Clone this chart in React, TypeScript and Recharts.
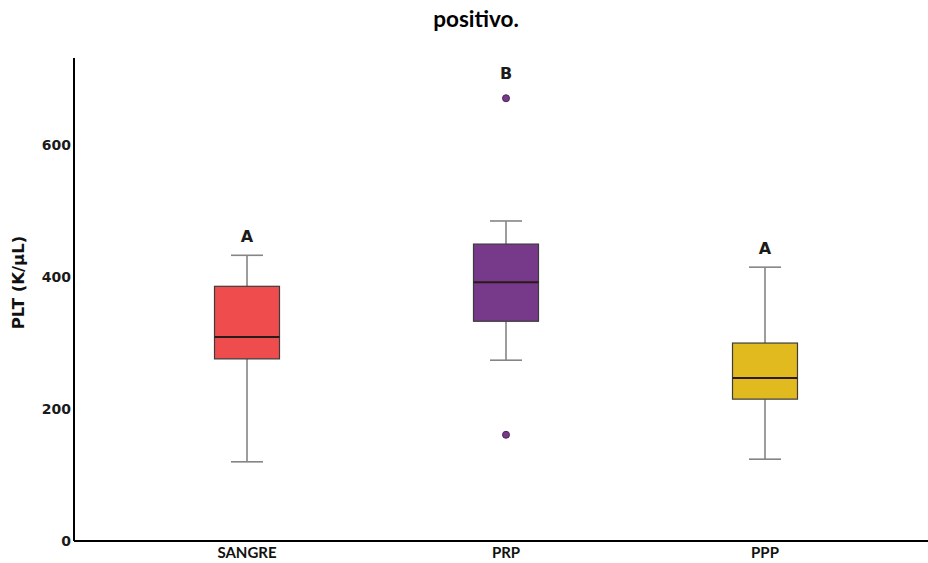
import { ComposedChart, Bar, XAxis, YAxis } from 'recharts';

const groups = ['SANGRE', 'PRP', 'PPP'];
const whiskerLow = [120, 274, 124];
const q1 = [276, 333, 215];
const median = [309, 392, 247];
const q3 = [386, 450, 300];
const whiskerHigh = [433, 485, 415];
const outliers: number[][] = [[], [161, 671], []];
const letters = ['A', 'B', 'A'];
const colors = ['#EF4C4E', '#773989', '#E0BA1F'];
const yTicks = [0, 200, 400, 600];

const data = groups.map((name, i) => {
  const lo = Math.min(whiskerLow[i], ...outliers[i]);
  const hi = Math.max(whiskerHigh[i], ...outliers[i]);
  return {
    name,
    range: [lo, hi],
    lo,
    hi,
    low: whiskerLow[i],
    q1: q1[i],
    median: median[i],
    q3: q3[i],
    high: whiskerHigh[i],
    outliers: outliers[i],
    letter: letters[i],
    color: colors[i],
  };
});

const BoxShape = (props: any) => {
  const { x, y, width, height, payload } = props;
  const top = Math.min(y, y + height);
  const bottom = Math.max(y, y + height);
  const { lo, hi } = payload;
  // map a value to pixels using the bar's own scaled extent
  const py = (v: number) => bottom - ((v - lo) / (hi - lo)) * (bottom - top);
  const cx = x + width / 2;
  const cap = 16;
  const topOutlier = payload.outliers.some((o: number) => o > payload.high);
  const labelY = py(hi) - (topOutlier ? 19 : 13);
  return (
    <g>
      <line x1={cx} x2={cx} y1={py(payload.high)} y2={py(payload.q3)} stroke="#858585" strokeWidth={1.6} />
      <line x1={cx} x2={cx} y1={py(payload.q1)} y2={py(payload.low)} stroke="#858585" strokeWidth={1.6} />
      <line x1={cx - cap} x2={cx + cap} y1={py(payload.high)} y2={py(payload.high)} stroke="#858585" strokeWidth={1.6} />
      <line x1={cx - cap} x2={cx + cap} y1={py(payload.low)} y2={py(payload.low)} stroke="#858585" strokeWidth={1.6} />
      <rect
        x={x}
        y={py(payload.q3)}
        width={width}
        height={py(payload.q1) - py(payload.q3)}
        fill={payload.color}
        stroke="#3c3c3c"
        strokeWidth={1.2}
      />
      <line x1={x} x2={x + width} y1={py(payload.median)} y2={py(payload.median)} stroke="#2a1a1a" strokeWidth={2} />
      {payload.outliers.map((o: number, k: number) => (
        <circle key={k} cx={cx} cy={py(o)} r={3.5} fill={payload.color} stroke="#4a2458" strokeWidth={1} />
      ))}
      <text
        x={cx}
        y={labelY}
        textAnchor="middle"
        fontFamily="DejaVu Sans"
        fontWeight="bold"
        fontSize={16}
        fill="#1a1a1a"
      >
        {payload.letter}
      </text>
    </g>
  );
};

export default function App() {
  return (
    <div style={{ position: 'absolute', left: 0, top: 0, width: 928, height: 563, background: '#fff' }}>
      <div
        style={{
          position: 'absolute',
          top: 5,
          left: 0,
          width: 952,
          textAlign: 'center',
          fontFamily: 'Lato',
          fontWeight: 'bold',
          fontSize: 22.5,
          color: '#000',
        }}
      >
        positivo.
      </div>
      <ComposedChart
        width={928}
        height={563}
        data={data}
        margin={{ top: 58, right: 0, bottom: 0, left: 0 }}
      >
        <XAxis
          dataKey="name"
          type="category"
          height={22}
          padding={{ left: 43.5, right: 33.5 }}
          axisLine={{ stroke: '#000', strokeWidth: 2 }}
          tickLine={false}
          tickSize={0}
          tickMargin={6}
          tick={{ fontFamily: 'Lato', fontWeight: 'bold', fontSize: 15, fill: '#111' }}
        />
        <YAxis
          type="number"
          domain={[0, 732]}
          ticks={yTicks}
          width={74}
          axisLine={{ stroke: '#000', strokeWidth: 2 }}
          tickLine={false}
          tickSize={0}
          tickMargin={3}
          tick={{ fontFamily: 'DejaVu Sans', fontWeight: 'bold', fontSize: 14, fill: '#1a1a1a' }}
          label={({ viewBox }: any) => (
            <text
              x={viewBox.x + 18}
              y={viewBox.y + viewBox.height / 2 - 17}
              transform={`rotate(-90, ${viewBox.x + 18}, ${viewBox.y + viewBox.height / 2 - 17})`}
              textAnchor="middle"
              dominantBaseline="central"
              fontFamily="DejaVu Sans"
              fontWeight="bold"
              fontSize={16.5}
              fill="#111"
            >
              PLT (K/µL)
            </text>
          )}
        />
        <Bar dataKey="range" barSize={65} shape={<BoxShape />} isAnimationActive={false} />
      </ComposedChart>
    </div>
  );
}
